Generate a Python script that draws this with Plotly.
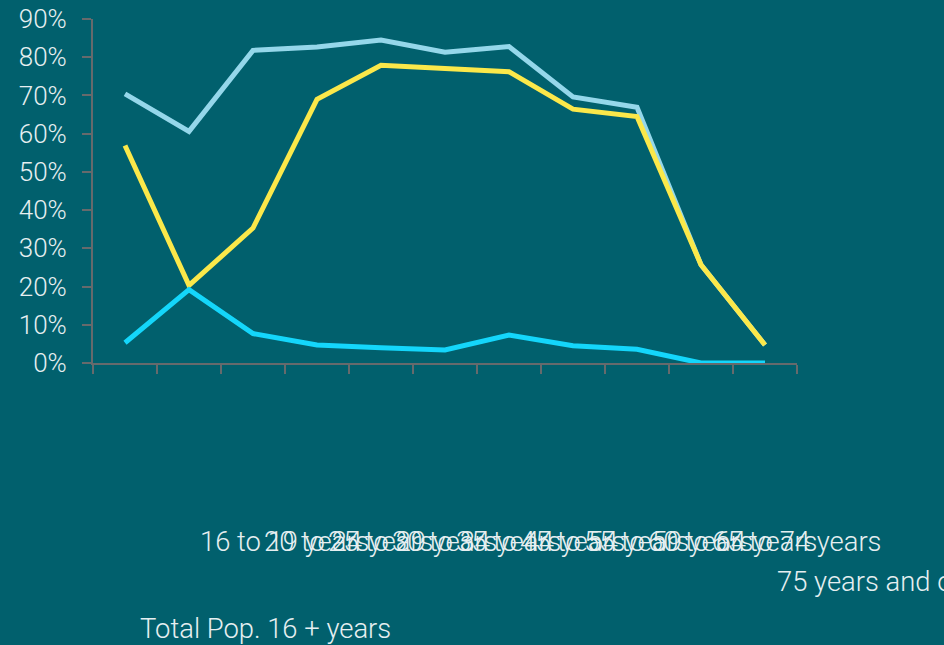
import plotly.graph_objects as go

categories = [
    "Total Pop. 16 + years", "16 to 19 years", "20 to 24 years", "25 to 29 years",
    "30 to 34 years", "35 to 44 years", "45 to 54 years", "55 to 59 years",
    "60 to 64 years", "65 to 74 years", "75 years and over",
]
participation = [70.4, 60.6, 81.8, 82.7, 84.5, 81.3, 82.8, 69.6, 66.9, 25.7, 4.7]
employment = [56.9, 20.3, 35.3, 69.0, 77.9, 77.2, 76.2, 66.4, 64.5, 25.7, 4.7]
unemployment = [5.3, 19.2, 7.7, 4.7, 4.0, 3.4, 7.3, 4.5, 3.6, 0.0, 0.0]
y_ticks = [0, 10, 20, 30, 40, 50, 60, 70, 80, 90]
y_ticktext = [f"{v}%" for v in y_ticks]

BG = "#01606d"
TXT = "#e6eff1"
AX = "#666a6c"
FONT = "Roboto"
FS_Y = 26
FS_X = 27.4

xs = list(range(len(categories)))
fig = go.Figure()
series = [
    ("Participation", participation, "#95d7ea"),
    ("Employment", employment, "#fbe84a"),
    ("Unemployment", unemployment, "#14d6fb"),
]
for name, vals, col in series:
    fig.add_trace(go.Scatter(
        x=xs, y=vals, name=name, mode="lines",
        line=dict(color=col, width=5), cliponaxis=False, showlegend=False,
    ))

# invisible carriers so the label axes get drawn
for ax in ["x2", "x3", "x4"]:
    fig.add_trace(go.Scatter(
        x=xs, y=[None] * len(xs), xaxis=ax, yaxis="y", mode="lines",
        showlegend=False, hoverinfo="skip",
    ))

mid_idx = list(range(1, 10))
label_axis = dict(
    overlaying="x", anchor="y", side="bottom", range=[-0.5, 10.5], type="linear",
    showline=False, showgrid=False, zeroline=False, ticks="", tickmode="array",
    ticklabelposition="outside right", ticklabeloverflow="allow", tickangle=0,
    tickfont=dict(family=FONT, size=FS_X, color=TXT, weight=300),
)

fig.update_layout(
    width=944, height=645,
    paper_bgcolor=BG, plot_bgcolor=BG,
    margin=dict(l=93, r=147, t=19, b=282, autoexpand=False),
    showlegend=False,
    font=dict(family=FONT, size=FS_Y, color=TXT, weight=300),
    xaxis=dict(
        range=[-0.5, 10.5], type="linear", tickmode="array",
        tickvals=[i - 0.5 for i in range(len(categories) + 1)],
        showticklabels=False, ticks="outside", ticklen=9, tickwidth=2,
        tickcolor=AX, showline=True, linecolor=AX, linewidth=2,
        showgrid=False, zeroline=False, layer="below traces",
    ),
    xaxis2=dict(label_axis, tickvals=mid_idx, ticktext=[categories[i] for i in mid_idx],
                ticklabelstandoff=160, ticklabelshift=11),
    xaxis3=dict(label_axis, tickvals=[10], ticktext=[categories[10]],
                ticklabelstandoff=200, ticklabelshift=12),
    xaxis4=dict(label_axis, tickvals=[0], ticktext=[categories[0]],
                ticklabelstandoff=247, ticklabelshift=15),
    yaxis=dict(
        range=[0, 90], tickmode="array", tickvals=y_ticks, ticktext=y_ticktext,
        ticks="outside", ticklen=9, tickwidth=2, tickcolor=AX,
        showline=True, linecolor=AX, linewidth=2, showgrid=False, zeroline=False,
        ticklabelstandoff=10, layer="below traces",
        tickfont=dict(family=FONT, size=FS_Y, color=TXT, weight=300),
    ),
)

fig.write_html(
    "out.html",
    config={"displayModeBar": False},
    post_script="document.body.style.margin='0';document.body.style.background='" + BG + "';",
)
